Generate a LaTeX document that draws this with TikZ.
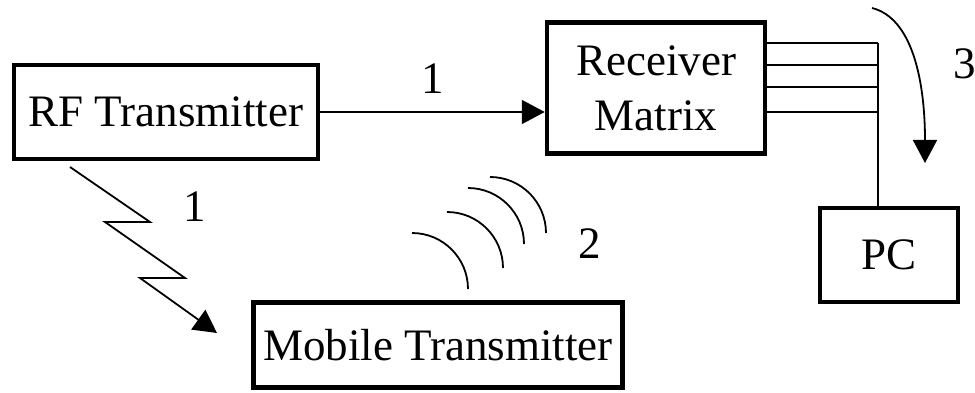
\documentclass[tikz,border=0pt]{standalone}
\usepackage{fontspec}
\setmainfont{Liberation Serif}
\usetikzlibrary{arrows.meta}

\tikzset{
  unitbox/.style={draw, line width=4.5pt, inner sep=0pt, align=center},
  wire/.style={line width=1.8pt},
  tip/.style={-{Triangle[width=24pt,length=23pt]}}
}

\begin{document}
\begin{tikzpicture}[x=1pt,y=-1pt,font=\fontsize{45}{55}\selectfont]
                \useasboundingbox (0,0) rectangle (975,393);
                \node[unitbox, minimum width=304pt, minimum height=94pt] (rf) at (166,112) {RF Transmitter};
                \node[unitbox, minimum width=218pt, minimum height=131pt] (rx) at (656,88) {Receiver\\Matrix};
                \node[unitbox, minimum width=138pt, minimum height=94pt] (pc) at (889,255) {PC};
                \node[unitbox, minimum width=369pt, minimum height=85pt] (mob) at (438,345) {Mobile Transmitter};
                % cable from the receiver to the PC
                \draw[wire, tip] (rf.east) -- (rf.east -| rx.west) node[midway, above=14pt]{1};
                \foreach \y in {43,65,87,112}
                    \draw[wire] (rx.east |- 0,\y) -- (878,\y);
                \draw[wire] (878,43) -- (878,0 |- pc.north);
                \draw[wire, tip] (872,8) .. controls (912,18) and (925,80) .. (925,163);
                \node (n3) at (965,64) {3};
                % radio link
                \coordinate (zz) at (70,167);
                \draw[wire, tip] (zz) -- (150,222) -- (105,222) -- (185,278) -- (140,278) -- (217,333);
                \node (n1) at (195,207) {1};
                \foreach \x/\y in {412/233, 447/212, 468/188, 490/177}
                    \draw[wire] (\x,\y) arc[start angle=-90, end angle=0, radius=56];
                \node (n2) at (590,244) {2};
            \end{tikzpicture}
\end{document}
